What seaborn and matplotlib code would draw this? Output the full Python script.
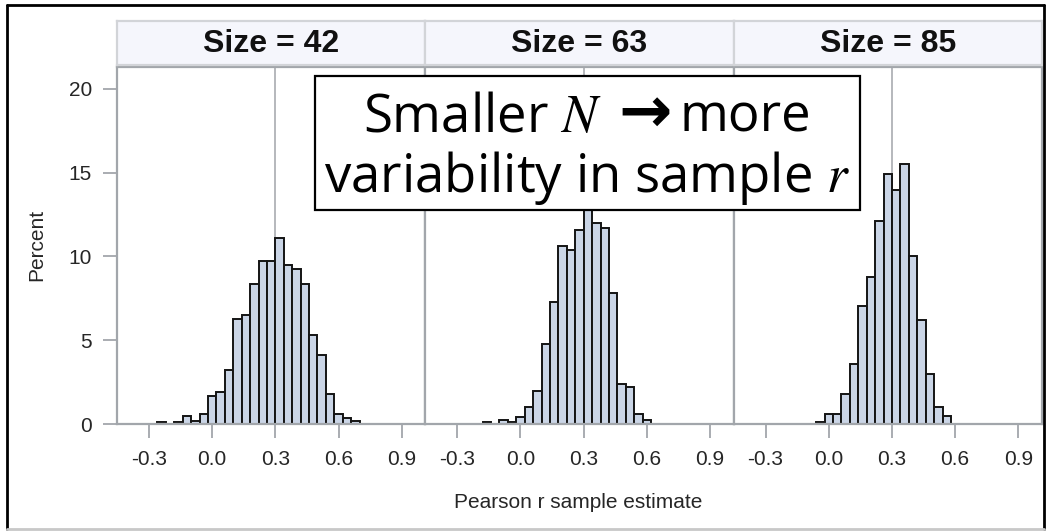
import numpy as np
import pandas as pd
import matplotlib
matplotlib.use("Agg")
import matplotlib.pyplot as plt
import seaborn as sns
from matplotlib.patches import Rectangle
from matplotlib.lines import Line2D

# Simulated sampling distribution of Pearson r, percent of replicates per bin
sizes = [42, 63, 85]

centers_42 = [-0.24, -0.16, -0.12, -0.08, -0.04, 0.00, 0.04, 0.08, 0.12, 0.16, 0.20, 0.24,
              0.28, 0.32, 0.36, 0.40, 0.44, 0.48, 0.52, 0.56, 0.60, 0.64, 0.68]
pct_42 = [0.1, 0.1, 0.5, 0.2, 0.6, 1.7, 1.9, 3.2, 6.25, 6.5, 8.35, 9.7,
          9.7, 11.1, 9.5, 9.25, 8.35, 5.3, 4.1, 1.8, 0.6, 0.35, 0.2]

centers_63 = [-0.16, -0.08, -0.04, 0.00, 0.04, 0.08, 0.12, 0.16, 0.20, 0.24,
              0.28, 0.32, 0.36, 0.40, 0.44, 0.48, 0.52, 0.56, 0.60]
pct_63 = [0.1, 0.25, 0.1, 0.4, 1.0, 1.95, 4.8, 7.25, 10.6, 10.4,
          11.6, 14.4, 12.0, 11.7, 7.8, 2.4, 2.2, 0.6, 0.25]

centers_85 = [-0.04, 0.00, 0.04, 0.08, 0.12, 0.16, 0.20, 0.24, 0.28, 0.32,
              0.36, 0.40, 0.44, 0.48, 0.52, 0.56]
pct_85 = [0.1, 0.6, 0.6, 1.8, 3.6, 7.05, 8.75, 12.1, 14.9, 13.95,
          15.5, 10.05, 6.2, 3.0, 1.0, 0.5]

x_ticks = [-0.3, 0.0, 0.3, 0.6, 0.9]
y_ticks = [0, 5, 10, 15, 20]
true_r = 0.3
bin_width = 0.04

panels = [(centers_42, pct_42), (centers_63, pct_63), (centers_85, pct_85)]

sns.set_theme(style="white")
plt.rcParams["font.family"] = ["Liberation Sans", "DejaVu Sans"]
plt.rcParams["mathtext.fontset"] = "stix"

W, H = 1046, 532
fig = plt.figure(figsize=(W / 100, H / 100), dpi=100)
fig.patch.set_facecolor("white")

BAR = "#CAD5E6"
FRAME = "#A2A6AB"
TXT = "#262626"

plot_top, plot_bot = 67, 424
strip_top, strip_bot = 21, 65
pw = 308.3
lefts = [117, 117 + pw, 117 + 2 * pw]

for i, ((cen, pct), size) in enumerate(zip(panels, sizes)):
    x0 = lefts[i]
    ax = fig.add_axes([x0 / W, (H - plot_bot) / H, pw / W, (plot_bot - plot_top) / H])
    df = pd.DataFrame({"r": cen, "pct": pct})
    lo = round(min(cen) - bin_width / 2, 4)
    hi = round(max(cen) + bin_width / 2, 4)
    ax.axvline(true_r, color="#B5B8BC", lw=1.4, zorder=0.5)
    sns.histplot(data=df, x="r", weights="pct", binwidth=bin_width, binrange=(lo, hi),
                 stat="count", ax=ax, color=BAR, edgecolor="#141414", linewidth=1.4,
                 alpha=1, zorder=2)
    for p in ax.patches:
        if p.get_height() == 0:
            p.set_visible(False)
    ax.set_xlim(-0.452, 1.012)
    ax.set_ylim(0, 21.3)
    ax.set_xticks(x_ticks)
    ax.set_xticklabels([f"{t:.1f}" for t in x_ticks])
    ax.set_xlabel("")
    ax.set_ylabel("")
    ax.tick_params(axis="x", direction="out", length=10, width=1.3, color=FRAME,
                   labelsize=15, labelcolor=TXT, pad=9, bottom=True)
    ax.set_yticks(y_ticks)
    if i == 0:
        ax.tick_params(axis="y", direction="out", length=10, width=1.3, color=FRAME,
                       labelsize=15, labelcolor=TXT, pad=8, left=True)
    else:
        ax.tick_params(axis="y", left=False, labelleft=False)
    for s in ax.spines.values():
        s.set_visible(True)
        s.set_color(FRAME)
        s.set_linewidth(1.6)
    ax.grid(False)

    # panel header strip
    hx = fig.add_axes([x0 / W, (H - strip_bot) / H, pw / W, (strip_bot - strip_top) / H])
    hx.set_facecolor("#F5F6FC")
    hx.set_xticks([])
    hx.set_yticks([])
    for s in hx.spines.values():
        s.set_color("#D2D4D8")
        s.set_linewidth(1.6)
    hx.text(0.5, 0.47, f"Size = {size}", transform=hx.transAxes, ha="center", va="center",
            fontsize=23, fontweight="bold", color="#111111")

fig.text(37 / W, 1 - 245 / H, "Percent", rotation=90, ha="center", va="center",
         fontsize=15, color=TXT)
fig.text(578 / W, 1 - 503 / H, "Pearson r sample estimate", ha="center", va="center",
         fontsize=15, color=TXT)

# annotation box
bx0, by0, bx1, by1 = 315, 76, 860, 210
fig.add_artist(Rectangle((bx0 / W, 1 - by1 / H), (bx1 - bx0) / W, (by1 - by0) / H,
                         transform=fig.transFigure, facecolor="white", edgecolor="black",
                         linewidth=1.6, zorder=10))
cx_px = (bx0 + bx1) / 2
box_font = dict(fontsize=38, color="black", family="Open Sans", va="baseline", zorder=11)

# first line is assembled from three pieces so the arrow can use a bolder face
renderer = fig.canvas.get_renderer()
y1 = 1 - 132 / H
p1 = fig.text(0, y1, "Smaller $N$", ha="left", **box_font)
p2 = fig.text(0, y1, "\u2192", ha="left", fontsize=46, color="black",
              family="DejaVu Sans", fontweight="bold", va="baseline", zorder=11)
p3 = fig.text(0, y1, "more", ha="left", **box_font)
w1 = p1.get_window_extent(renderer).width
w2 = p2.get_window_extent(renderer).width
w3 = p3.get_window_extent(renderer).width
gap1, gap2 = 16, 8
x = cx_px - (w1 + gap1 + w2 + gap2 + w3) / 2
p1.set_x(x / W)
p2.set_x((x + w1 + gap1) / W)
p3.set_x((x + w1 + gap1 + w2 + gap2) / W)

fig.text(cx_px / W, 1 - 192 / H, "variability in sample $r$", ha="center", **box_font)

# outer frame
fig.add_artist(Line2D([7 / W, 7 / W], [1 - 529 / H, 1 - 5 / H], color="black", lw=2,
                      transform=fig.transFigure))
fig.add_artist(Line2D([7 / W, 1044 / W], [1 - 5 / H, 1 - 5 / H], color="black", lw=2,
                      transform=fig.transFigure))
fig.add_artist(Line2D([1044 / W, 1044 / W], [1 - 529 / H, 1 - 5 / H], color="black", lw=2,
                      transform=fig.transFigure))
fig.add_artist(Line2D([7 / W, 1044 / W], [1 - 529 / H, 1 - 529 / H], color="#C8C8C8", lw=2,
                      transform=fig.transFigure))

fig.savefig("out.png", dpi=100)
